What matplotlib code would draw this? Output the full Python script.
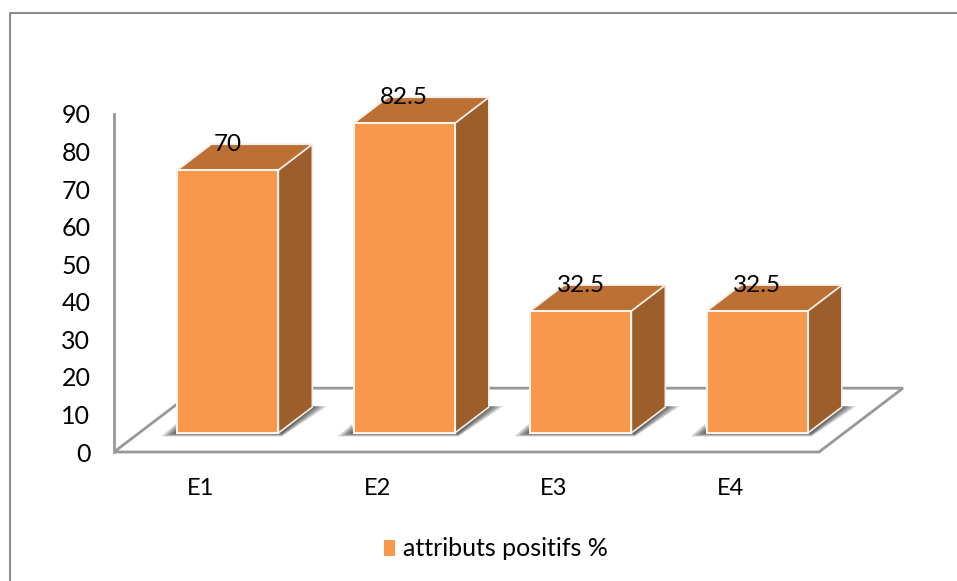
import matplotlib
matplotlib.use('Agg')
import matplotlib.pyplot as plt
from matplotlib.lines import Line2D
from matplotlib.patches import Patch, Polygon, Rectangle

categories = ['E1', 'E2', 'E3', 'E4']
values = [70, 82.5, 32.5, 32.5]
series_name = 'attributs positifs %'
y_ticks = [0, 10, 20, 30, 40, 50, 60, 70, 80, 90]

FRONT = '#F9974A'
TOP = '#BC7034'
SIDE = '#9C5F2C'
GRAY = '#989898'

W, H = 957, 581
plt.rcParams['font.family'] = ['Lato', 'DejaVu Sans']

fig = plt.figure(figsize=(W / 100, H / 100), dpi=100)
ax = fig.add_axes([114 / W, (H - 452) / H, 705 / W, 338 / H])

# one category is 176.5 px wide, first tick label sits at x = 201 px
ax.set_xlim(-87 / 176.5, 618 / 176.5)
ax.set_ylim(0, 90)

# offsets of the fake 3d, in data units
bar_shift = 0.152
bar_w = 101 / 176.5
base = 5.05
depth_x = 34 / 176.5
depth_y = 6.9

# floor
floor_x = [-87 / 176.5, 618 / 176.5, 702 / 176.5, -3 / 176.5]
floor_y = [0, 0, 17, 17]
ax.add_patch(Polygon(list(zip(floor_x, floor_y)), closed=True, fc='white', ec=GRAY,
                     lw=2, clip_on=False, zorder=1))

for i, v in enumerate(values):
    left = i + bar_shift - bar_w / 2
    right = left + bar_w
    top = base + v

    # soft shadow on the floor
    for k, alpha in [(1.0, 0.25), (0.75, 0.3), (0.5, 0.35), (0.25, 0.4)]:
        ax.add_patch(Polygon([(left - 0.09 * k, base - 0.9 * k), (right + 0.02, base - 0.9 * k),
                              (right + depth_x + 0.08 * k, base + depth_y + 0.2),
                              (right + depth_x, base + depth_y + 0.2),
                              (right, base), (left, base), (left - 0.01, base + 2.4 * k)],
                             closed=True, fc='#444444', ec='none', alpha=alpha,
                             clip_on=False, zorder=2))

    ax.add_patch(Polygon([(right, base), (right + depth_x, base + depth_y),
                          (right + depth_x, top + depth_y), (right, top)],
                         closed=True, fc=SIDE, ec='#F4EDE6', lw=1.2, clip_on=False, zorder=3))
    ax.add_patch(Polygon([(left, top), (right, top), (right + depth_x, top + depth_y),
                          (left + depth_x, top + depth_y)],
                         closed=True, fc=TOP, ec='#F4EDE6', lw=1.2, clip_on=False, zorder=3))
    ax.add_patch(Rectangle((left, base), bar_w, v, fc=FRONT, ec='#FBF3EC', lw=1.5,
                           clip_on=False, zorder=4))

    ax.text(i + bar_shift, top + depth_y, f'{v:g}', ha='center', va='center',
            fontsize=17.5, color='black', zorder=5)

for name, spine in ax.spines.items():
    spine.set_visible(name == 'left')
ax.spines['left'].set_color(GRAY)
ax.spines['left'].set_linewidth(2)
ax.patch.set_visible(False)

ax.set_yticks(y_ticks)
ax.set_xticks(range(len(categories)))
ax.set_xticklabels(categories)
ax.tick_params(axis='y', length=0, pad=17, labelsize=18)
ax.tick_params(axis='x', length=0, pad=19, labelsize=17)

handle = Patch(fc=FRONT, ec='none')
fig.legend([handle], [series_name], loc='center', bbox_to_anchor=(496 / W, 1 - 549 / H),
           frameon=False, fontsize=18, handlelength=0.45, handleheight=0.6, handletextpad=0.3)

# outer chart frame, cropped on the right and bottom
fig.add_artist(Line2D([10 / W, 10 / W, 1], [0, 1 - 12.5 / H, 1 - 12.5 / H], color='#8C8C8C', lw=1.5))

fig.savefig('out.png', dpi=100)
